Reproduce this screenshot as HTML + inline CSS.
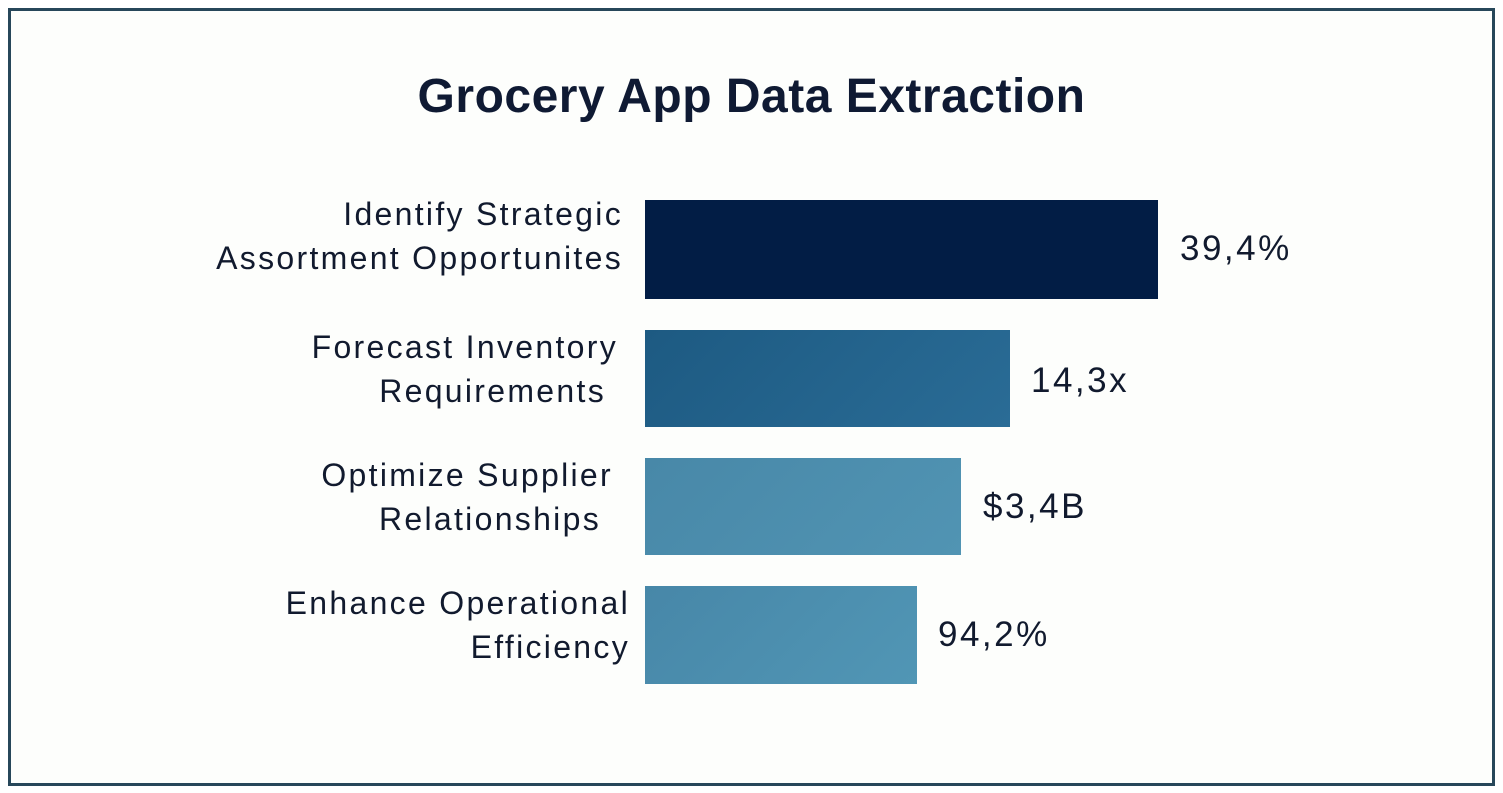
<!DOCTYPE html>
<html><head><meta charset="utf-8"><style>
html,body{margin:0;padding:0;background:#fff;}
body{width:1503px;height:793px;position:relative;overflow:hidden;font-family:"Liberation Sans",sans-serif;color:#111a2e;}
.frame{position:absolute;left:8px;top:8px;width:1481px;height:772px;border:3px solid #27475a;background:#fdfefc;}
.title{position:absolute;left:0;width:1503px;top:69px;text-align:center;font-size:48px;font-weight:bold;color:#0f1a33;letter-spacing:0.5px;}
.bar{position:absolute;left:645px;}
.lab{position:absolute;text-align:right;font-size:32px;line-height:44px;color:#111a2e;letter-spacing:2.3px;white-space:nowrap;}
.val{position:absolute;font-size:35px;color:#111a2e;letter-spacing:2.5px;}
</style></head><body>
<div class="frame"></div>
<div class="title">Grocery App Data Extraction</div>

<div class="bar" style="top:200px;width:513px;height:99px;background:#021d45"></div>
<div class="bar" style="top:330px;width:365px;height:97px;background:linear-gradient(135deg,#1d5a82,#2a6c96)"></div>
<div class="bar" style="top:458px;width:316px;height:97px;background:linear-gradient(135deg,#4888a8,#5194b3)"></div>
<div class="bar" style="top:586px;width:272px;height:98px;background:linear-gradient(135deg,#4787a8,#5196b5)"></div>

<div class="lab" style="right:880px;top:192px">Identify Strategic<br>Assortment Opportunites</div>
<div class="lab" style="right:885px;top:325px">Forecast Inventory<br><span style="margin-right:12px">Requirements</span></div>
<div class="lab" style="right:890px;top:453px">Optimize Supplier<br><span style="margin-right:12px">Relationships</span></div>
<div class="lab" style="right:873px;top:581px">Enhance Operational<br>Efficiency</div>

<div class="val" style="left:1180px;top:229px">39,4%</div>
<div class="val" style="left:1031px;top:361px">14,3x</div>
<div class="val" style="left:983px;top:487px">$3,4B</div>
<div class="val" style="left:938px;top:615px">94,2%</div>
</body></html>
